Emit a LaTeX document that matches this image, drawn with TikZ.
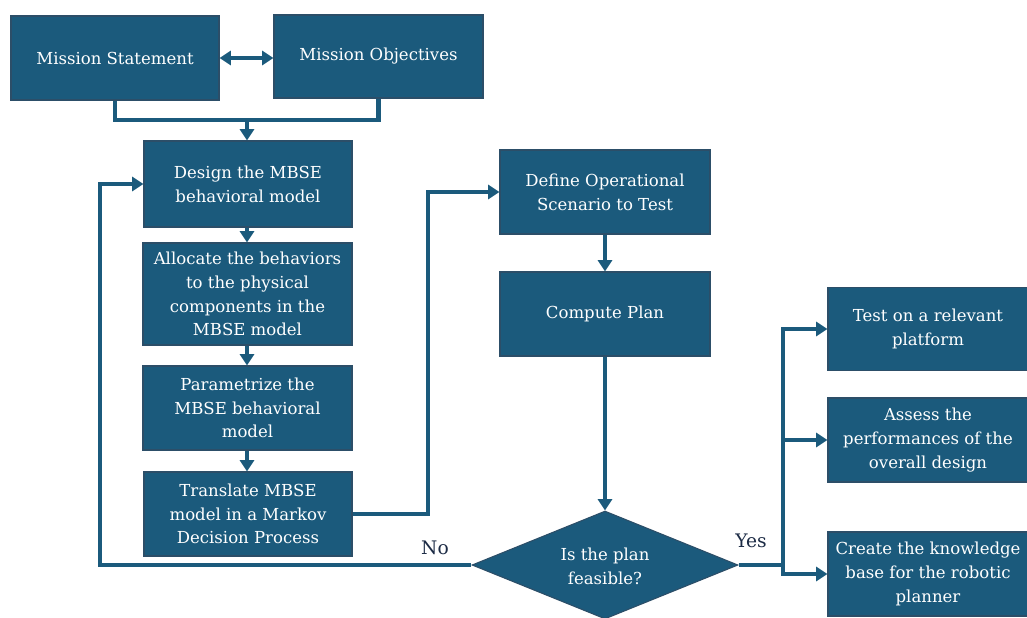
\documentclass[tikz,border=0pt]{standalone}
\usepackage{fontspec}
\setmainfont{DejaVu Serif}
\usetikzlibrary{shapes.geometric,arrows.meta}
\definecolor{boxfill}{HTML}{1B5A7C}
\definecolor{boxline}{HTML}{2C4E68}
\definecolor{labelcol}{HTML}{1C2B45}
\tikzset{
  box/.style={draw=boxline, line width=0.8pt, fill=boxfill, text=white, align=center,
    inner sep=0pt, font=\fontsize{12.4pt}{17.8pt}\selectfont},
  boxtext/.style={text=white, align=center, inner sep=0pt, font=\fontsize{12.4pt}{17.8pt}\selectfont},
  conn/.style={draw=boxfill, line width=3.2pt},
  arr/.style={conn, -{Triangle[width=10.5pt,length=8.5pt]}},
  darr/.style={conn, {Triangle[width=10.5pt,length=8.5pt]}-{Triangle[width=10.5pt,length=8.5pt]}},
  lab/.style={text=labelcol, font=\fontsize{14pt}{17pt}\selectfont},
}
\begin{document}
\begin{tikzpicture}[x=0.75pt,y=-0.75pt]
\useasboundingbox (0,0) rectangle (1027,617);
\node[box, minimum width=156pt, minimum height=63pt] (ms) at (115,58) {Mission Statement};
\node[box, minimum width=156.75pt, minimum height=62.25pt] (mo) at (378.5,56.5) {Mission Objectives};
\node[box, minimum width=156pt, minimum height=64.5pt] (design) at (248,184) {Design the MBSE\\behavioral model};
\node[box, minimum width=156.75pt, minimum height=76.5pt] (alloc) at (247.5,294) {Allocate the behaviors\\to the physical\\components in the\\MBSE model};
\node[box, minimum width=156.75pt, minimum height=63pt] (param) at (247.5,408) {Parametrize the\\MBSE behavioral\\model};
\node[box, minimum width=156pt, minimum height=63pt] (transl) at (248,514) {Translate MBSE\\model in a Markov\\Decision Process};
\node[box, minimum width=157.5pt, minimum height=63pt] (define) at (605,192) {Define Operational\\Scenario to Test};
\node[box, minimum width=157.5pt, minimum height=63pt] (compute) at (605,314) {Compute Plan};
\node[box, shape=diamond, minimum width=199.5pt, minimum height=81pt] (feas) at (605,565) {};
\node[boxtext] (feastext) at (605,566) {Is the plan\\feasible?};
\node[box, minimum width=150pt, minimum height=62.25pt] (test) at (928,329) {Test on a relevant\\platform};
\node[box, minimum width=150pt, minimum height=63pt] (assess) at (928,440) {Assess the\\performances of the\\overall design};
\node[box, minimum width=150pt, minimum height=63pt] (create) at (928,574) {Create the knowledge\\base for the robotic\\planner};
\node[lab] (no) at (435,548) {No};
\node[lab] (yes) at (751,541) {Yes};
\coordinate (jn) at (247,120);
\coordinate (tr) at (428,514);
\coordinate (nc) at (100,565);
\coordinate (yc) at (783,565);
\draw[darr] (ms.east) -- (ms.east -| mo.west);
\draw[conn] (ms.south) |- (jn) -| (mo.south);
\draw[arr] (jn) -- (jn |- design.north);
\draw[arr] (design.south -| jn) -- (alloc.north -| jn);
\draw[arr] (alloc.south -| jn) -- (param.north -| jn);
\draw[arr] (param.south -| jn) -- (transl.north -| jn);
\draw[arr] (transl.east) -- (tr) |- (define.west);
\draw[arr] (define.south) -- (compute.north);
\draw[arr] (compute.south) -- (feas.north);
\draw[arr] (feas.west) -- (nc) |- (design.west);
\draw[conn] (feas.east) -- (yc);
\draw[arr] (yc) |- (test.west);
\draw[arr] (yc) |- (assess.west);
\draw[arr] (yc) |- (create.west);
\end{tikzpicture}
\end{document}
